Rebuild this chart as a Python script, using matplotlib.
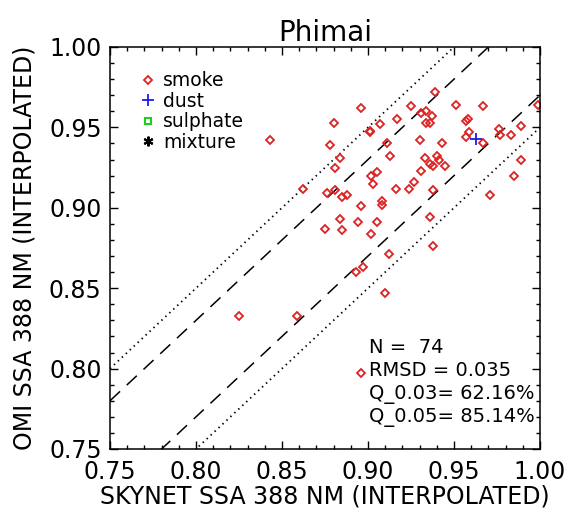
import numpy as np
import matplotlib
matplotlib.use('Agg')
import matplotlib.pyplot as plt
from matplotlib.ticker import MultipleLocator, FormatStrFormatter

TITLE = 'Phimai'
XLABEL = 'SKYNET SSA 388 NM (INTERPOLATED)'
YLABEL = 'OMI SSA 388 NM (INTERPOLATED)'

# smoke points
smoke_x = [0.939, 0.896, 0.925, 0.951, 0.967, 0.999, 0.880, 0.901, 0.901, 0.907,
           0.917, 0.931, 0.934, 0.937, 0.934, 0.936, 0.957, 0.958, 0.959, 0.957,
           0.967, 0.976, 0.977, 0.983, 0.989, 0.878, 0.884, 0.881, 0.911, 0.913,
           0.930, 0.943, 0.933, 0.940, 0.941, 0.936, 0.938, 0.945, 0.931, 0.989,
           0.985, 0.902, 0.905, 0.903, 0.916, 0.924, 0.927, 0.938, 0.876, 0.881,
           0.885, 0.888, 0.908, 0.908, 0.896, 0.971, 0.884, 0.875, 0.885, 0.894,
           0.905, 0.902, 0.936, 0.938, 0.912, 0.893, 0.897, 0.910, 0.843, 0.862,
           0.825, 0.859, 0.896]
smoke_y = [0.972, 0.962, 0.963, 0.964, 0.963, 0.964, 0.953, 0.947, 0.948, 0.952,
           0.955, 0.959, 0.960, 0.957, 0.953, 0.953, 0.954, 0.955, 0.947, 0.944,
           0.940, 0.949, 0.945, 0.945, 0.951, 0.939, 0.931, 0.925, 0.940, 0.932,
           0.942, 0.940, 0.931, 0.932, 0.930, 0.927, 0.926, 0.926, 0.923, 0.930,
           0.920, 0.920, 0.922, 0.915, 0.912, 0.912, 0.916, 0.911, 0.909, 0.911,
           0.907, 0.908, 0.904, 0.902, 0.901, 0.908, 0.893, 0.887, 0.886, 0.891,
           0.891, 0.884, 0.894, 0.876, 0.871, 0.860, 0.863, 0.847, 0.942, 0.912,
           0.833, 0.833, 0.797]
dust_x = [0.963]
dust_y = [0.943]
sulphate_x = []
sulphate_y = []
mixture_x = []
mixture_y = []

stats_lines = ['N =  74', 'RMSD = 0.035', 'Q_0.03= 62.16%', 'Q_0.05= 85.14%']
offsets_dash = [-0.03, 0.03]
offsets_dot = [-0.05, 0.05]
lim = (0.75, 1.00)

plt.rcParams['font.family'] = ['DejaVu Sans']

fig = plt.figure(figsize=(5.70, 5.12), dpi=100)
ax = fig.add_axes([110/570, 1 - 449/512, 430/570, 402/512])

# reference lines +-0.03 dashed, +-0.05 dotted
xx = np.array(lim)
for off in offsets_dash:
    ax.plot(xx, xx + off, color='black', lw=1.1, linestyle=(0, (9, 6)))
for off in offsets_dot:
    ax.plot(xx, xx + off, color='black', lw=1.3, linestyle=(0, (0.8, 2.2)))

ax.plot(smoke_x, smoke_y, linestyle='none', marker='D', ms=4.2, mfc='none',
        mec='#dd2222', mew=1.3, label='smoke')
ax.plot(dust_x, dust_y, linestyle='none', marker='+', ms=9, mec='#1a1aee',
        mew=1.3, label='dust')
ax.plot(sulphate_x, sulphate_y, linestyle='none', marker='s', ms=5, mfc='none',
        mec='#22cc22', mew=1.5, label='sulphate')
ax.plot(mixture_x, mixture_y, linestyle='none', marker=(6, 2, 0), ms=7,
        mec='black', mew=1.5, label='mixture')

ax.set_xlim(lim)
ax.set_ylim(lim)
for axis in (ax.xaxis, ax.yaxis):
    axis.set_major_locator(MultipleLocator(0.05))
    axis.set_minor_locator(MultipleLocator(0.01))
    axis.set_major_formatter(FormatStrFormatter('%.2f'))
ax.tick_params(which='both', direction='in', top=True, right=True, width=1)
ax.tick_params(which='major', length=6)
ax.tick_params(which='minor', length=3)
ax.tick_params(axis='x', labelsize=17, pad=8)
ax.tick_params(axis='y', labelsize=17, pad=6)
for s in ax.spines.values():
    s.set_linewidth(1.1)

ax.set_title(TITLE, fontsize=20, pad=2)
ax.set_xlabel(XLABEL, fontsize=17, labelpad=0)
ax.set_ylabel(YLABEL, fontsize=17, labelpad=9)

ax.legend(loc='upper left', bbox_to_anchor=(0.071, 0.94), frameon=False,
          fontsize=13.5, handlelength=0.8, handletextpad=0.4, labelspacing=0.08,
          borderpad=0, borderaxespad=0)

for i, line in enumerate(stats_lines):
    ax.text(0.9006, 0.8134 - i * 0.0147, line, fontsize=14, va='center', ha='left')

fig.savefig('out.png', dpi=100)
